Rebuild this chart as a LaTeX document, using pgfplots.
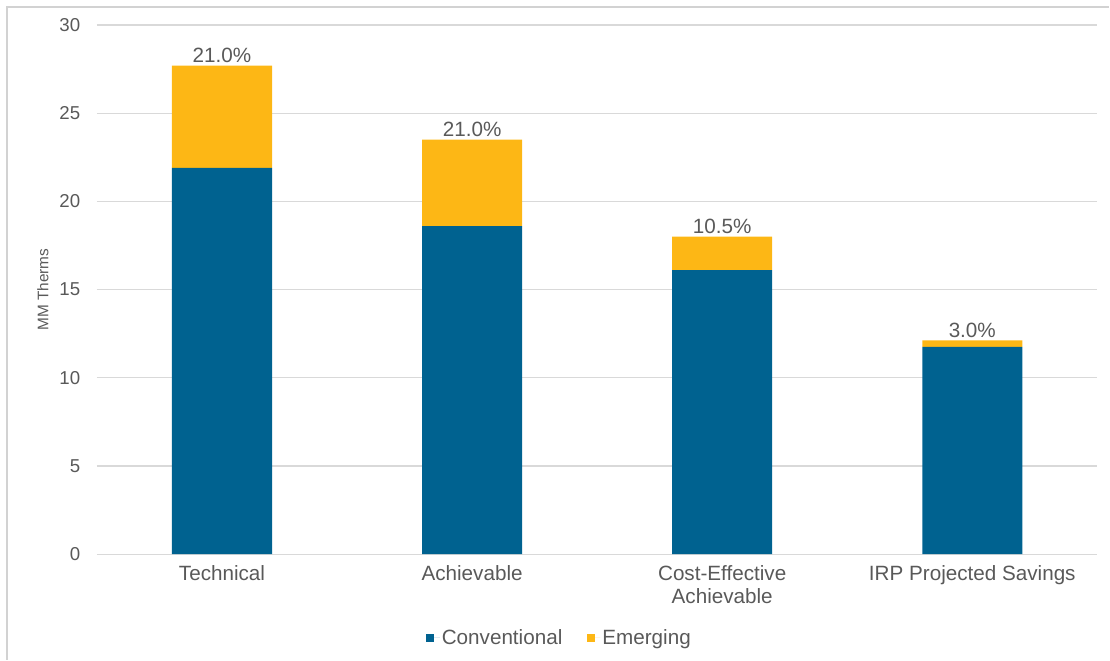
\documentclass[border=0pt]{standalone}
\usepackage{fontspec}
\setmainfont{Liberation Sans}
\usepackage{pgfplots}
\usepackage{pgfplotstable}
\pgfplotsset{compat=1.18}

\definecolor{convblue}{RGB}{0,98,144}
\definecolor{emergyellow}{RGB}{253,183,21}
\definecolor{txtgray}{RGB}{89,89,89}
\definecolor{gridgray}{RGB}{217,217,217}
\definecolor{framegray}{RGB}{210,210,210}

% savings potential by scenario, MM therms
\pgfplotstableread{
x conv emer share
0 21.9  5.8  21.0
1 18.6  4.9  21.0
2 16.1  1.9  10.5
3 11.75 0.37 3.0
}\savings

\begin{document}
\begin{tikzpicture}
% page extent
\path (0pt,0pt) rectangle (832.5pt,495pt);
% outer frame (top and left edges)
\draw[framegray, line width=1pt] (5.25pt,0pt) -- (5.25pt,489.75pt) -- (832.5pt,489.75pt);

\begin{axis}[
  at={(72.75pt,79.1pt)}, anchor=south west,
  scale only axis,
  width=750.75pt, height=397.1pt,
  ybar stacked,
  bar width=0.4,
  xmin=-0.5, xmax=3.5,
  ymin=0, ymax=30,
  ytick={0,5,...,30},
  xtick=data,
  xticklabels={Technical, Achievable, {Cost-Effective\\Achievable}, IRP Projected Savings},
  xticklabel style={align=center, font=\fontsize{15.5}{17.5}\selectfont, text=txtgray, yshift=-5pt},
  yticklabel style={font=\fontsize{14}{16}\selectfont, text=txtgray, xshift=-9pt},
  /pgf/number format/assume math mode=true,
  major tick length=0pt,
  axis line style={draw=none},
  ymajorgrids,
  major grid style={gridgray, line width=0.9pt},
  ylabel={MM Therms},
  ylabel style={at={(axis description cs:-0.054,0.5)}, anchor=center, rotate=0,
    font=\fontsize{11.5}{13}\selectfont, text=txtgray},
  legend style={at={(0.4625,-0.158)}, anchor=center, draw=none, fill=none,
    font=\fontsize{15.5}{17.5}\selectfont, text=txtgray,
    legend columns=2,
    /tikz/every even column/.append style={column sep=17pt},
    nodes={inner sep=1.5pt}},
  legend image code/.code={\fill[#1, draw=none] (0pt,-3pt) rectangle (6pt,3pt);
    \path (0pt,0pt) -- (10pt,0pt);},
  clip=false,
]
\addplot[fill=convblue, draw=none] table[x=x, y=conv] {\savings};
\addlegendentry{Conventional}
% emerging segment; share label lifted from the segment middle to its top
\addplot[fill=emergyellow, draw=none,
  visualization depends on={rawy \as \emerval},
  point meta=explicit symbolic,
  nodes near coords={\pgfplotspointmeta\%},
  nodes near coords style={font=\fontsize{15.5}{17.5}\selectfont, text=txtgray,
    anchor=south, inner sep=2pt, yshift={\emerval*6.618pt}},
] table[x=x, y=emer, meta=share] {\savings};
\addlegendentry{Emerging}
\end{axis}
\end{tikzpicture}
\end{document}
